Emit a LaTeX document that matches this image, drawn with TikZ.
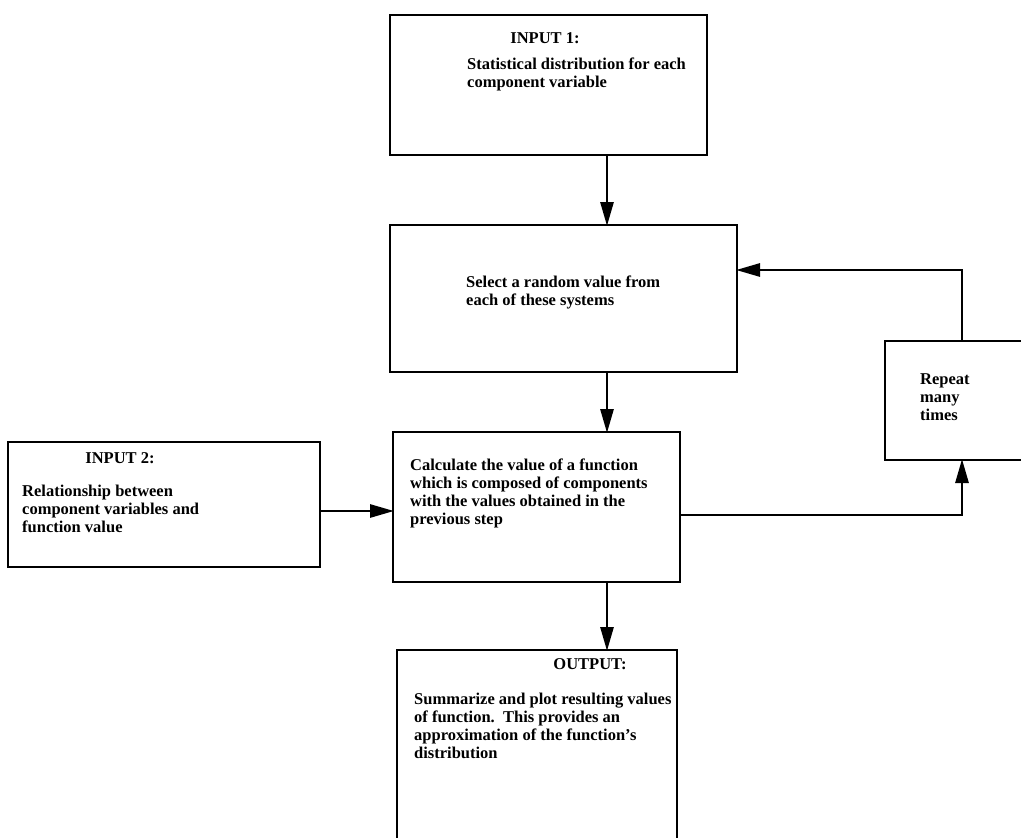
\documentclass[tikz,border=0pt]{standalone}
\usepackage{fontspec}
\setmainfont{Liberation Serif}
\usetikzlibrary{arrows.meta}
\begin{document}
\begin{tikzpicture}[x=1pt,y=-1pt,
  box/.style={draw, line width=2.8pt, inner sep=0pt, outer sep=0pt, anchor=north west},
  title/.style={font=\bfseries\fontsize{16.5}{18}\selectfont, inner sep=0pt},
  body/.style={font=\bfseries\fontsize{16.5}{18}\selectfont, align=left, inner sep=0pt, anchor=north west},
  flow/.style={line width=2.8pt, -{Triangle[length=24pt,width=13pt]}, shorten >=-1pt}]
\useasboundingbox (0,0) rectangle (1021,838);
\begin{scope}
\clip (0,0) rectangle (1021,838);
% boxes
\node[box, minimum width=317pt, minimum height=140pt] (in1) at (390,15) {};
\node[box, minimum width=347pt, minimum height=147pt] (sel) at (390,225) {};
\node[box, minimum width=287pt, minimum height=150pt] (calc) at (393,432) {};
\node[box, minimum width=312pt, minimum height=125pt] (in2) at (8,442) {};
\node[box, minimum width=170pt, minimum height=119pt] (rep) at (885,341) {};
\node[box, minimum width=280pt, minimum height=210pt] (out) at (397,650) {};
\end{scope}
% texts
\node[title] (in1t) at (545,38) {INPUT 1:};
\node[body] (in1b) at (467,58) {Statistical distribution for each\\component variable};
\node[body] (selb) at (466,276) {Select a random value from\\each of these systems};
\node[body] (calcb) at (410,459) {Calculate the value of a function\\which is composed of components\\with the values obtained in the\\previous step};
\node[title] (in2t) at (120,458) {INPUT 2:};
\node[body] (in2b) at (22,485) {Relationship between\\component variables and\\function value};
\node[body] (repb) at (920,373) {Repeat\\many\\times};
\node[title] (outt) at (590,664) {OUTPUT:};
\node[body] (outb) at (414,693) {Summarize and plot resulting values\\of function.\ \ This provides an\\approximation of the function's\\distribution};
% connectors
\coordinate (c1) at (962,515);
\coordinate (c2) at (962,270);
\draw[flow] (in1.south -| 607,0) -- (sel.north -| 607,0);
\draw[flow] (sel.south -| 607,0) -- (calc.north -| 607,0);
\draw[flow] (calc.south -| 607,0) -- (out.north -| 607,0);
\draw[flow] (in2.east |- 0,511) -- (calc.west |- 0,511);
\draw[flow] (calc.east |- c1) -- (c1) -- (rep.south -| c1);
\draw[flow] (rep.north -| c2) -- (c2) -- (sel.east |- c2);
\end{tikzpicture}
\end{document}
